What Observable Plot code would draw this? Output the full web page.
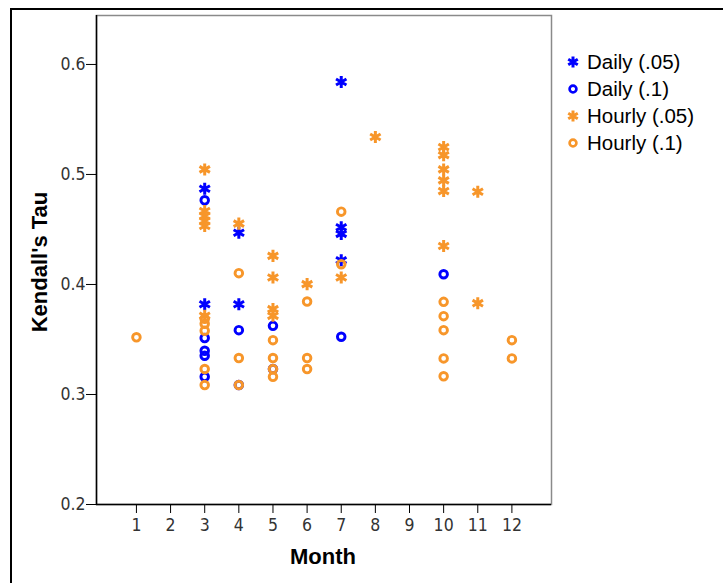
<!DOCTYPE html>
<html>
<head>
<meta charset="utf-8">
<script src="https://cdn.jsdelivr.net/npm/d3@7"></script>
<script src="https://cdn.jsdelivr.net/npm/@observablehq/plot@0.6"></script>
<style>
  body { margin: 0; background: #fff; }
  #wrap { position: relative; width: 723px; height: 583px; overflow: hidden; background: #fff; }
  #border { position: absolute; left: 10px; top: 8px; width: 900px; height: 900px; border: 2px solid #000; box-sizing: border-box; }
  #chart { position: absolute; left: 0; top: 0; }
  .title { position: absolute; font-family: "Liberation Sans", Arial, sans-serif; font-weight: bold; color: #000; white-space: nowrap; }
  #ytitle { left: 40px; top: 262px; font-size: 22px; transform: translate(-50%, -50%) rotate(-90deg); }
  #xtitle { left: 323px; top: 557px; font-size: 22px; transform: translate(-50%, -50%); }
  #legend { position: absolute; left: 564px; top: 48px; font-family: "Liberation Sans", Arial, sans-serif; font-size: 20.5px; color: #000; }
  .item { display: flex; align-items: center; height: 27px; }
  .item svg { width: 18px; height: 18px; margin-right: 5px; overflow: visible; }
</style>
</head>
<body>
<div id="wrap">
  <div id="border"></div>
  <div id="chart"></div>
  <div id="ytitle" class="title">Kendall's Tau</div>
  <div id="xtitle" class="title">Month</div>
  <div id="legend"></div>
</div>
<script>
// ---- data ----
const seriesNames = ["Daily (.05)", "Daily (.1)", "Hourly (.05)", "Hourly (.1)"];
const seriesColors = ["#0000ff", "#0000ff", "#f7962a", "#f7962a"];
const seriesSymbols = ["asterisk", "circle", "asterisk", "circle"];

const monthTicks = [1, 2, 3, 4, 5, 6, 7, 8, 9, 10, 11, 12];
const tauTicks = [0.2, 0.3, 0.4, 0.5, 0.6];

const dailyP05Month = [3, 3, 4, 4, 7, 7, 7, 7];
const dailyP05Tau   = [0.487, 0.382, 0.447, 0.382, 0.584, 0.452, 0.446, 0.422];

const dailyP1Month = [3, 3, 3, 3, 3, 4, 4, 5, 5, 7, 10];
const dailyP1Tau   = [0.4765, 0.3513, 0.3397, 0.3352, 0.3161, 0.3585, 0.3086, 0.3624, 0.3231, 0.3525, 0.4093];

const hourlyP05Month = [3, 3, 3, 3, 3, 3, 4, 5, 5, 5, 5, 6, 7, 8, 10, 10, 10, 10, 10, 10, 11, 11];
const hourlyP05Tau   = [0.5046, 0.4668, 0.4623, 0.4577, 0.4532, 0.3715, 0.4553, 0.426, 0.4063, 0.3776, 0.3715,
                        0.4003, 0.4063, 0.534, 0.5249, 0.5176, 0.5046, 0.4946, 0.4849, 0.435, 0.4843, 0.383];

const hourlyP1Month = [1, 3, 3, 3, 3, 3, 4, 4, 4, 5, 5, 5, 5, 6, 6, 6, 7, 7, 10, 10, 10, 10, 10, 12, 12];
const hourlyP1Tau   = [0.352, 0.3688, 0.3643, 0.358, 0.3231, 0.3086, 0.4103, 0.3331, 0.3086, 0.3494, 0.3331, 0.3231, 0.3161,
                       0.3845, 0.3331, 0.3231, 0.4662, 0.4184, 0.3842, 0.3712, 0.3585, 0.3328, 0.3165, 0.3494, 0.3328];

const xDomain = [-0.17, 13.16];
const yDomain = [0.2, 0.6445];

function rowsOf(months, taus) { return months.map((m, i) => ({ month: m, tau: taus[i] })); }
const seriesData = [
  rowsOf(dailyP05Month, dailyP05Tau),
  rowsOf(dailyP1Month, dailyP1Tau),
  rowsOf(hourlyP05Month, hourlyP05Tau),
  rowsOf(hourlyP1Month, hourlyP1Tau)
];

const tickFont = `"Liberation Sans Narrow", "Arial Narrow", "DejaVu Sans Condensed", sans-serif`;

const dotMarks = seriesData.map((rows, i) => Plot.dot(rows, {
  x: "month", y: "tau",
  symbol: seriesSymbols[i],
  r: seriesSymbols[i] === "asterisk" ? 5.7 : 3.8,
  stroke: seriesColors[i],
  strokeWidth: seriesSymbols[i] === "asterisk" ? 3 : 2.9,
  fill: "none"
}));

const chart = Plot.plot({
  width: 723, height: 583,
  marginLeft: 96, marginRight: 172, marginTop: 15, marginBottom: 79,
  style: { background: "transparent", fontFamily: tickFont, overflow: "visible" },
  x: { domain: xDomain, axis: null },
  y: { domain: yDomain, axis: null },
  marks: [
    Plot.frame({ stroke: "#8a8a8a", strokeWidth: 1.5 }),
    Plot.ruleX([xDomain[0]], { stroke: "#000", strokeWidth: 1.5 }),
    Plot.ruleY([yDomain[0]], { stroke: "#000", strokeWidth: 1.5 }),
    Plot.axisY(tauTicks, { tickSize: 10, tickPadding: 1, tickFormat: d3.format(".1f"), fontSize: 17.5, fill: "#333", stroke: "#000", label: null }),
    Plot.axisX(monthTicks, { tickSize: 9, tickPadding: 5, fontSize: 17.5, fill: "#333", stroke: "#000", label: null }),
    ...dotMarks
  ]
});
document.getElementById("chart").appendChild(chart);

// ---- legend ----
const legend = d3.select("#legend");
seriesNames.forEach((name, i) => {
  const item = legend.append("div").attr("class", "item");
  const svg = item.append("svg").attr("viewBox", "-9 -9 18 18");
  const sym = seriesSymbols[i] === "asterisk" ? d3.symbolAsterisk : d3.symbolCircle;
  const r = seriesSymbols[i] === "asterisk" ? 5.2 : 3.4;
  svg.append("path")
    .attr("d", d3.symbol(sym, Math.PI * r * r)())
    .attr("fill", "none")
    .attr("stroke", seriesColors[i])
    .attr("stroke-width", seriesSymbols[i] === "asterisk" ? 3 : 2.7);
  item.append("span").text(name);
});
</script>
</body>
</html>
